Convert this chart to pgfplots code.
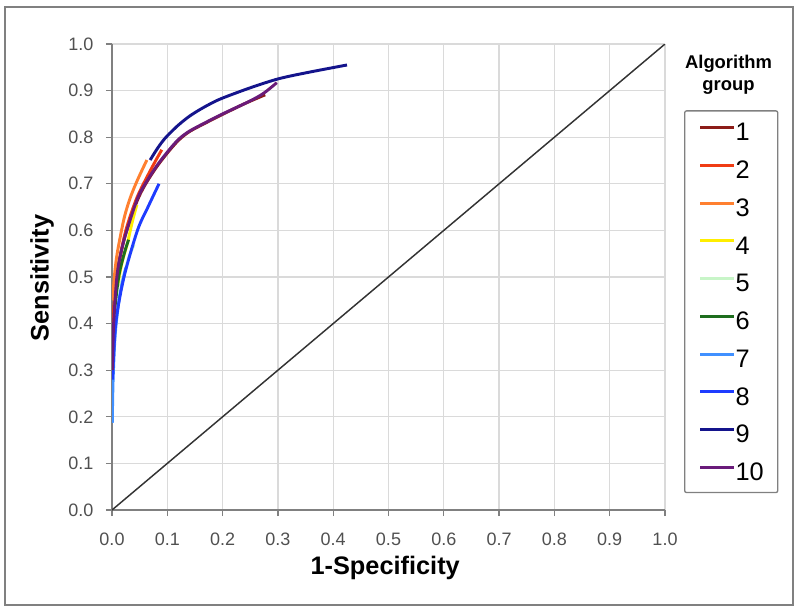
\documentclass[border=0pt]{standalone}
\usepackage{pgfplots}
\pgfplotsset{compat=1.18}
\usepackage{fontspec}
\setmainfont{Liberation Sans}
\definecolor{c1}{HTML}{8C1C18}
\definecolor{c2}{HTML}{F03C14}
\definecolor{c3}{HTML}{FF8030}
\definecolor{c4}{HTML}{FFEE00}
\definecolor{c5}{HTML}{C8F5C8}
\definecolor{c6}{HTML}{1E6E1E}
\definecolor{c7}{HTML}{4090FF}
\definecolor{c8}{HTML}{1E3CFF}
\definecolor{c9}{HTML}{14148C}
\definecolor{c10}{HTML}{6A1B7A}
\definecolor{ticklab}{HTML}{505050}
\definecolor{axln}{HTML}{808080}
\definecolor{gridc}{HTML}{DADADA}
\begin{document}
\begin{tikzpicture}
\path (0pt,0pt) rectangle (600pt,459pt);
\draw[axln, line width=1.1pt] (3.75pt,5.25pt) rectangle (594.75pt,453.75pt);
\begin{axis}[
  at={(84pt,76.5pt)}, anchor=south west,
  scale only axis, width=414.75pt, height=349.5pt,
  xmin=0, xmax=1, ymin=0, ymax=1,
  xtick={0,0.1,0.2,0.3,0.4,0.5,0.6,0.7,0.8,0.9,1},
  ytick={0,0.1,0.2,0.3,0.4,0.5,0.6,0.7,0.8,0.9,1},
  /pgf/number format/.cd, fixed, fixed zerofill, precision=1, assume math mode=true,
  /pgfplots/.cd,
  grid=major, major grid style={draw=gridc, line width=1pt},
  axis x line*=bottom, axis y line*=left,
  axis line style={draw=axln, line width=1.5pt, -},
  tick align=outside, major tick length=4.5pt,
  tick style={draw=axln, line width=1pt},
  tick label style={font=\fontsize{13.5}{13.5}\selectfont, text=ticklab},
  xticklabel style={yshift=-9.5pt},
  yticklabel style={xshift=-6pt},
  xlabel={\textbf{1-Specificity}},
  ylabel={\textbf{Sensitivity}},
  label style={font=\fontsize{19}{19}\selectfont},
  xlabel style={at={(axis description cs:0.494,-0.1245)}, anchor=center},
  ylabel style={at={(axis description cs:-0.1266,0.498)}, anchor=center, rotate=0},
  legend image code/.code={\draw[#1] (0pt,0.32em) -- (25.5pt,0.32em);},
  legend style={at={(rel axis cs:1,0.858)}, xshift=14.25pt, anchor=north west,
    draw=axln, rounded corners=1.5pt, line width=1pt,
    font=\fontsize{19}{19}\selectfont,
    inner xsep=10.5pt, inner ysep=9pt, row sep=14.7pt, column sep=0pt,
    nodes={inner sep=0pt, text height=13.6pt, text depth=0pt}},
  legend cell align=left,
  every axis plot/.append style={line width=2.2pt, smooth, no markers},
]
\addplot[forget plot, draw=black!80, line width=1.1pt, sharp plot] coordinates {(0,0) (1,1)};
\addplot[c1] coordinates {(0.0005,0.35) (0.004,0.44) (0.011,0.52) (0.024,0.59) (0.045,0.662) (0.06,0.698) (0.08,0.735) (0.1,0.766) (0.12,0.793) (0.14,0.812) (0.17,0.831) (0.2,0.849) (0.24,0.872) (0.277,0.891)};
\addlegendentry{1}
\addplot[c2] coordinates {(0.0005,0.38) (0.005,0.46) (0.0127,0.53) (0.025,0.6) (0.045,0.67) (0.07,0.73) (0.09,0.773)};
\addlegendentry{2}
\addplot[c3] coordinates {(0.001,0.45) (0.005,0.51) (0.01,0.555) (0.0217,0.625) (0.033,0.67) (0.046,0.708) (0.063,0.751)};
\addlegendentry{3}
\addplot[c4] coordinates {(0.01,0.48) (0.018,0.53) (0.028,0.573) (0.037,0.62) (0.045,0.655)};
\addlegendentry{4}
\addplot[c5] coordinates {(0.015,0.48) (0.024,0.515) (0.031,0.544) (0.04,0.57)};
\addlegendentry{5}
\addplot[c6] coordinates {(0.004,0.42) (0.012,0.5) (0.022,0.55) (0.03,0.58)};
\addlegendentry{6}
\addplot[c7] coordinates {(0.0005,0.187) (0.002,0.28) (0.006,0.38) (0.014,0.46) (0.025,0.52)};
\addlegendentry{7}
\addplot[c8] coordinates {(0.001,0.28) (0.0067,0.40) (0.0217,0.50) (0.046,0.60) (0.065,0.65) (0.085,0.70)};
\addlegendentry{8}
\addplot[c9] coordinates {(0.069,0.751) (0.08,0.772) (0.09,0.789) (0.1,0.803) (0.12,0.826) (0.14,0.845) (0.16,0.86) (0.18,0.873) (0.2,0.884) (0.25,0.906) (0.3,0.925) (0.35,0.938) (0.425,0.955)};
\addlegendentry{9}
\addplot[c10] coordinates {(0.0005,0.30) (0.003,0.40) (0.0096,0.508) (0.0217,0.579) (0.045,0.665) (0.06,0.70) (0.08,0.737) (0.1,0.768) (0.12,0.795) (0.14,0.813) (0.17,0.832) (0.2,0.85) (0.25,0.878) (0.275,0.895) (0.298,0.917)};
\addlegendentry{10}
\end{axis}
\node[align=center, font=\bfseries\fontsize{13.8}{16.5}\selectfont, inner sep=0pt] at (546.4pt,402.75pt) {Algorithm\\group};
\end{tikzpicture}
\end{document}
